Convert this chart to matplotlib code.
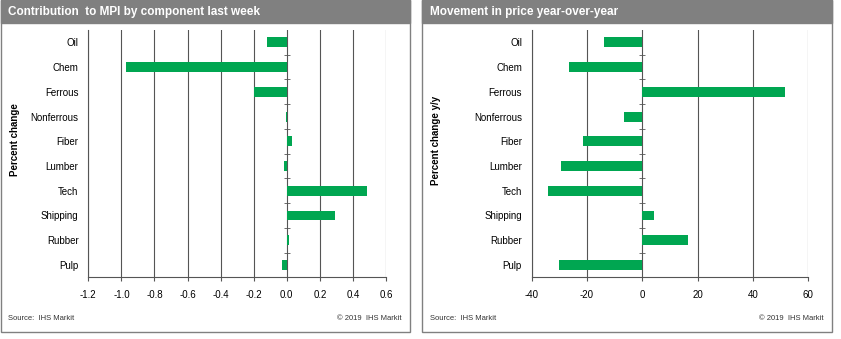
# Import libraries
import matplotlib.pyplot as plt
from matplotlib.patches import Rectangle

plt.rcParams['font.family'] = ['Liberation Sans', 'DejaVu Sans']

# Data
components = ["Oil", "Chem", "Ferrous", "Nonferrous", "Fiber",
              "Lumber", "Tech", "Shipping", "Rubber", "Pulp"]
contribution = [-0.12, -0.97, -0.20, -0.005, 0.033, -0.014, 0.488, 0.294, 0.016, -0.028]
yoy_change = [-13.8, -26.5, 51.6, -6.6, -21.3, -29.4, -34.1, 4.2, 16.5, -30.1]

left_ticks = [-1.2, -1.0, -0.8, -0.6, -0.4, -0.2, 0.0, 0.2, 0.4, 0.6]
left_ticklabels = ["-1.2", "-1.0", "-0.8", "-0.6", "-0.4", "-0.2", "0.0", "0.2", "0.4", "0.6"]
right_ticks = [-40, -20, 0, 20, 40, 60]

green = "#00a651"
gray = "#808080"
W, H = 841, 339

fig = plt.figure(figsize=(W / 100, H / 100), dpi=100)
fig.patch.set_facecolor("white")


def panel(x0, x1, title, ylabel, label_x):
    # outer border and grey header bar, in pixels
    fig.patches.append(Rectangle((x0 / W, 1 - 332 / H), (x1 - x0) / W, 332 / H,
                                 transform=fig.transFigure, fill=False,
                                 edgecolor=gray, linewidth=1.0))
    fig.patches.append(Rectangle((x0 / W, 1 - 23 / H), (x1 - x0) / W, 23 / H,
                                 transform=fig.transFigure, facecolor=gray,
                                 edgecolor=gray, linewidth=1.0))
    fig.text((x0 + 8) / W, 1 - 12 / H, title, color="white", fontsize=8.5,
             fontweight="bold", va="center", ha="left")
    fig.text(label_x / W, 1 - 140 / H, ylabel, fontsize=7, fontweight="bold",
             rotation=90, va="center", ha="center")
    fig.text((x0 + 8) / W, 1 - 319 / H, "Source:  IHS Markit", fontsize=5.5,
             color="#333333", va="center", ha="left")
    fig.text((x1 - 8) / W, 1 - 319 / H, "\u00a9 2019  IHS Markit", fontsize=5.5,
             color="#333333", va="center", ha="right")


def bars(ax, values, xlim, ticks, ticklabels):
    y = list(range(len(components)))
    ax.barh(y, values, height=0.4, color=green, zorder=3)
    ax.set_ylim(len(components) - 0.5, -0.5)
    ax.set_xlim(xlim)
    ax.set_xticks(ticks)
    ax.set_xticklabels(ticklabels)
    ax.set_yticks(y)
    ax.set_yticklabels(components)
    ax.tick_params(axis="y", length=0, labelsize=7, pad=7)
    ax.tick_params(axis="x", length=3, labelsize=7, pad=6, color="#555555")
    ax.grid(axis="x", color="#555555", linewidth=0.8)
    ax.set_axisbelow(True)
    for s in ["top", "right"]:
        ax.spines[s].set_visible(False)
    for s in ["left", "bottom"]:
        ax.spines[s].set_color("#555555")
        ax.spines[s].set_linewidth(0.8)
    # small tick marks on the zero line between categories
    ax.plot([0] * (len(components) - 1), [i + 0.5 for i in y[:-1]], ls="none",
            marker="_", markersize=4, color="#555555", markeredgewidth=0.6, zorder=4)


panel(0.5, 410, "Contribution  to MPI by component last week", "Percent change", 15)
panel(422, 832, "Movement in price year-over-year", "Percent change y/y", 436)

ax1 = fig.add_axes([88.3 / W, 1 - 277.3 / H, 297.7 / W, 247.3 / H])
bars(ax1, contribution, (-1.2, 0.6), left_ticks, left_ticklabels)

ax2 = fig.add_axes([531.7 / W, 1 - 277.3 / H, 276.6 / W, 247.3 / H])
bars(ax2, yoy_change, (-40, 60), right_ticks, [str(t) for t in right_ticks])

plt.savefig("out.png", dpi=100)
